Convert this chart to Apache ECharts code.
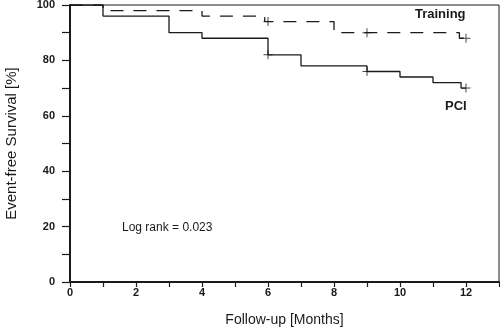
<!DOCTYPE html>
<html><head><meta charset="utf-8">
<script src="https://cdn.jsdelivr.net/npm/echarts@6/dist/echarts.min.js"></script>
<style>html,body{margin:0;padding:0;background:#fff}#c{width:500px;height:334px}</style>
</head><body><div id="c"></div>
<script>
// Kaplan-Meier step points [month, survival %]
var pciTimes = [0, 1, 3, 4, 6, 7, 9, 10, 11, 11.85, 12];
var pciSurv  = [100, 96, 90, 88, 82, 78, 76, 74, 72, 70, 70];
var pciCensorTimes = [6, 9, 12];
var pciCensorSurv  = [82, 76, 70];

var trainTimes = [0, 1, 4, 5.9, 8, 11.8, 12];
var trainSurv  = [100, 98, 96, 94, 90, 88, 88];
var trainCensorTimes = [6, 9, 12];
var trainCensorSurv  = [94, 90, 88];

var xTickLabels = [0, 2, 4, 6, 8, 10, 12];
var yTickLabels = [0, 20, 40, 60, 80, 100];

function zip(a, b) { return a.map(function (v, i) { return [v, b[i]]; }); }

var plus = 'path://M4,0H5V4H9V5H5V9H4V5H0V4H4Z';
var ink = '#1a1a1a';
var font = 'Liberation Sans, Arial, sans-serif';

var chart = echarts.init(document.getElementById('c'), null, {renderer: 'canvas'});
chart.setOption({
  animation: false,
  grid: {left: 70, right: 1, top: 5, bottom: 52, show: true, borderColor: ink, borderWidth: 1,
         containLabel: false, outerBoundsMode: 'none'},
  xAxis: {
    type: 'value', min: 0, max: 13, interval: 1,
    name: 'Follow-up [Months]', nameLocation: 'middle', nameGap: 31,
    nameTextStyle: {fontFamily: font, fontSize: 14, color: ink},
    axisLine: {lineStyle: {color: ink, width: 2}},
    axisTick: {show: true, inside: false, length: 5, lineStyle: {color: ink, width: 1.2}},
    axisLabel: {fontFamily: font, fontSize: 11, fontWeight: 'bold', color: ink, margin: 5,
      formatter: function (v) { return xTickLabels.indexOf(v) >= 0 ? String(v) : ''; }},
    splitLine: {show: false}
  },
  yAxis: {
    type: 'value', min: 0, max: 100, interval: 10,
    name: 'Event-free Survival [%]', nameLocation: 'middle', nameGap: 51,
    nameTextStyle: {fontFamily: font, fontSize: 15, color: ink},
    axisLine: {lineStyle: {color: ink, width: 2}},
    axisTick: {show: true, inside: false, length: 8, lineStyle: {color: ink, width: 1.2}},
    axisLabel: {fontFamily: font, fontSize: 11, fontWeight: 'bold', color: ink, margin: 15,
      formatter: function (v) { return yTickLabels.indexOf(v) >= 0 ? String(v) : ''; }},
    splitLine: {show: false}
  },
  series: [
    {type: 'line', step: 'end', data: zip(pciTimes, pciSurv), symbol: 'none',
     lineStyle: {color: ink, width: 1.3}},
    {type: 'line', step: 'end', data: zip(trainTimes, trainSurv), symbol: 'none',
     lineStyle: {color: ink, width: 1.3, type: [13, 10]}},
    {type: 'scatter', data: zip(pciCensorTimes, pciCensorSurv), symbol: plus, symbolSize: 9,
     itemStyle: {color: ink}},
    {type: 'scatter', data: zip(trainCensorTimes, trainCensorSurv), symbol: plus, symbolSize: 9,
     itemStyle: {color: ink}}
  ],
  graphic: [
    {type: 'text', left: 415, top: 8, style: {text: 'Training', font: 'bold 13px ' + font, fill: ink}},
    {type: 'text', left: 445, top: 100, style: {text: 'PCI', font: 'bold 13px ' + font, fill: ink}},
    {type: 'text', left: 122, top: 222, style: {text: 'Log rank = 0.023', font: '12px ' + font, fill: ink}}
  ]
});
</script></body></html>
